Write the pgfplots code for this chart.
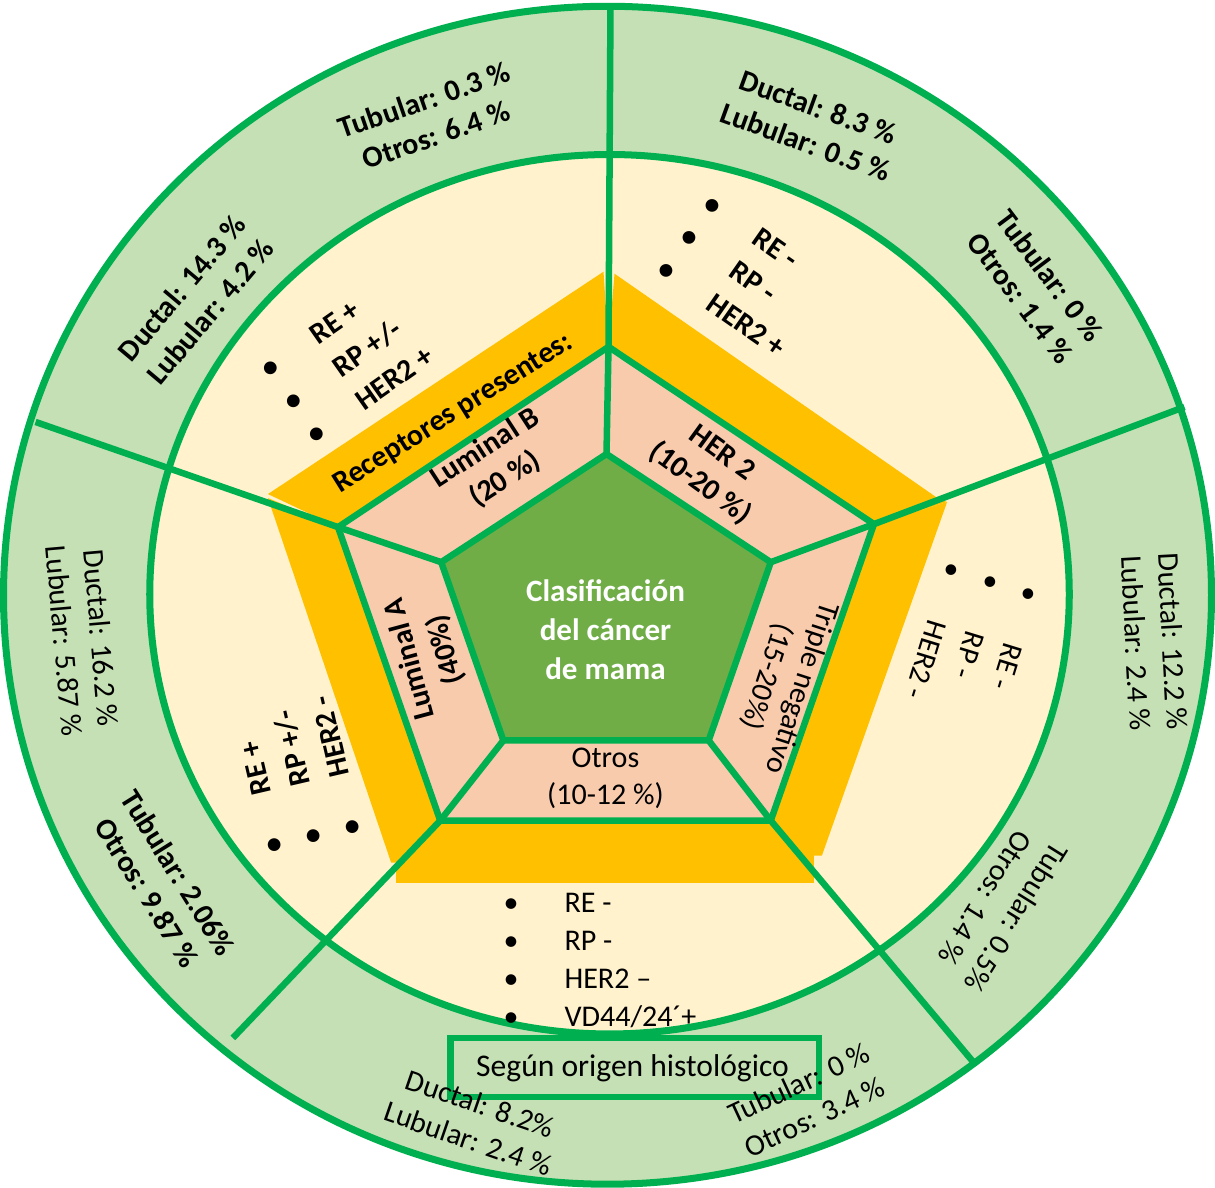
\documentclass[border=0pt]{standalone}
\usepackage{fontspec}
\setmainfont{Carlito}
\usepackage{pgfplots}
\pgfplotsset{compat=1.18}
\definecolor{ring}{HTML}{C5E0B4}
\definecolor{cream}{HTML}{FFF2CC}
\definecolor{orng}{HTML}{FFC000}
\definecolor{salmon}{HTML}{F8CBAD}
\definecolor{cgreen}{HTML}{70AD47}
\definecolor{lg}{HTML}{00B050}
\begin{document}
\begin{tikzpicture}
\begin{axis}[width=1215pt,height=1186pt,scale only axis,
  xmin=0,xmax=1215,ymin=0,ymax=1186,y dir=reverse,hide axis,clip=false]
% rings
\draw[line width=7pt, draw=lg, fill=ring] (axis cs:609,593) ellipse [x radius=603, y radius=588];
\draw[line width=7pt, draw=lg, fill=cream] (axis cs:611,592) ellipse [x radius=459, y radius=439];
% orange bands
\addplot[draw=none, fill=orng] coordinates {(270,492)(605,270)(610,345)(340,525)} -- cycle;
\addplot[draw=none, fill=orng] coordinates {(616,272)(937,495)(948,500)(875,522)(610,345)} -- cycle;
\addplot[draw=none, fill=orng] coordinates {(270,496)(340,525)(442,818)(398,860)(393,860)} -- cycle;
\addplot[draw=none, fill=orng] coordinates {(398,818)(815,818)(815,880)(398,880)} -- cycle;
\addplot[draw=none, fill=orng] coordinates {(948,500)(875,522)(772,818)(815,853)(823,853)} -- cycle;
% salmon pentagon
\addplot[draw=lg, line width=6.5pt, line join=round, fill=salmon] coordinates {(610,345)(875,522)(772,818)(442,818)(340,525)} -- cycle;
% green pentagon
\addplot[draw=lg, line width=6.5pt, line join=round, fill=cgreen] coordinates {(608,452)(772,560)(710,738)(505,738)(443,560)} -- cycle;
% connecting lines
\addplot[lg, line width=6.5pt] coordinates {(608,452)(610,345)};
\addplot[lg, line width=6.5pt] coordinates {(772,560)(875,522)};
\addplot[lg, line width=6.5pt] coordinates {(710,738)(772,818)};
\addplot[lg, line width=6.5pt] coordinates {(505,738)(442,818)};
\addplot[lg, line width=6.5pt] coordinates {(443,560)(340,525)};
% radial lines
\addplot[lg, line width=6.5pt] coordinates {(612,2)(610,345)};
\addplot[lg, line width=6.5pt] coordinates {(1185,405)(875,522)};
\addplot[lg, line width=6.5pt] coordinates {(975,1060)(772,818)};
\addplot[lg, line width=6.5pt] coordinates {(235,1035)(442,818)};
\addplot[lg, line width=6.5pt] coordinates {(38,420)(340,525)};
% box
\draw[line width=6.5pt, draw=lg, fill=ring] (axis cs:452,1035) rectangle (axis cs:820,1094);
\node[font=\fontsize{31.5}{36}\selectfont, inner sep=0] at (axis cs:634,1065) {Según origen histológico};
% outer texts
\tikzset{ob/.style={font=\fontsize{30}{37}\selectfont\bfseries, align=center, inner sep=0},
         orr/.style={font=\fontsize{30}{37}\selectfont, align=center, inner sep=0}}
\node[ob, rotate=19] at (axis cs:432,116) {Tubular: 0.3 \%\\Otros: 6.4 \%};
\node[ob, rotate=50] at (axis cs:198,298) {Ductal: 14.3 \%\\Lubular: 4.2 \%};
\node[ob, rotate=-20] at (axis cs:813,123) {Ductal: 8.3 \%\\Lubular: 0.5 \%};
\node[ob, rotate=-53] at (axis cs:1036,285) {Tubular: 0 \%\\Otros: 1.4 \%};
\node[orr, rotate=-87] at (axis cs:1155,640) {Ductal: 12.2 \%\\Lubular: 2.4 \%};
\node[orr, rotate=-122] at (axis cs:1002,905) {Tubular: 0.5\%\\Otros: 1.4 \%};
\node[orr, rotate=25] at (axis cs:808,1097) {Tubular: 0 \%\\Otros: 3.4 \%};
\node[orr, rotate=-19] at (axis cs:476,1118) {Ductal: 8.2\%\\Lubular: 2.4 \%};
\node[orr, rotate=-85] at (axis cs:85,637) {Ductal: 16.2 \%\\Lubular: 5.87 \%};
\node[ob, rotate=-58] at (axis cs:165,880) {Tubular: 2.06\%\\Otros: 9.87 \%};
% bullet lists
\node[font=\fontsize{30}{40}\selectfont\bfseries, inner sep=0, rotate=35] at (axis cs:350,362)
  {\begin{tabular}{@{}c@{\hspace{45pt}}l@{}}\textbullet & RE +\\ \textbullet & RP +/-\\ \textbullet & HER2 +\end{tabular}};
\node[font=\fontsize{30}{40}\selectfont\bfseries, inner sep=0, rotate=-35] at (axis cs:745,275)
  {\begin{tabular}{@{}c@{\hspace{45pt}}l@{}}\textbullet & RE -\\ \textbullet & RP -\\ \textbullet & HER2 +\end{tabular}};
\node[font=\fontsize{30}{40}\selectfont, inner sep=0, rotate=-107] at (axis cs:972,640)
  {\begin{tabular}{@{}c@{\hspace{45pt}}l@{}}\textbullet & RE -\\ \textbullet & RP -\\ \textbullet & HER2 -\end{tabular}};
\node[font=\fontsize{30}{40}\selectfont\bfseries, inner sep=0, rotate=103] at (axis cs:302,772)
  {\begin{tabular}{@{}c@{\hspace{45pt}}l@{}}\textbullet & RE +\\ \textbullet & RP +/-\\ \textbullet & HER2 -\end{tabular}};
\node[font=\fontsize{30}{38}\selectfont, inner sep=0, anchor=north west] at (axis cs:505,883)
  {\begin{tabular}{@{}c@{\hspace{46pt}}l@{}}\textbullet & RE -\\ \textbullet & RP -\\ \textbullet & HER2 –\\ \textbullet & VD44/24´+\end{tabular}};
% band label
\node[font=\fontsize{30}{36}\selectfont\bfseries, inner sep=0, rotate=32] at (axis cs:455,412) {Receptores presentes:};
% salmon labels
\node[ob, rotate=33] at (axis cs:497,462) {Luminal B\\(20 \%)};
\node[ob, rotate=-36] at (axis cs:712,467) {HER 2\\(10-20 \%)};
\node[orr, rotate=-108] at (axis cs:785,680) {Triple negativo\\(15-20\%)};
\node[ob, rotate=105] at (axis cs:430,652) {Luminal A\\(40\%)};
\node[orr] at (axis cs:607,776) {Otros\\(10-12 \%)};
% center
\node[font=\fontsize{31}{39}\selectfont\bfseries, text=white, align=center, inner sep=0] at (axis cs:607,627) {Clasificación\\del cáncer\\de mama};
\end{axis}
\end{tikzpicture}
\end{document}
